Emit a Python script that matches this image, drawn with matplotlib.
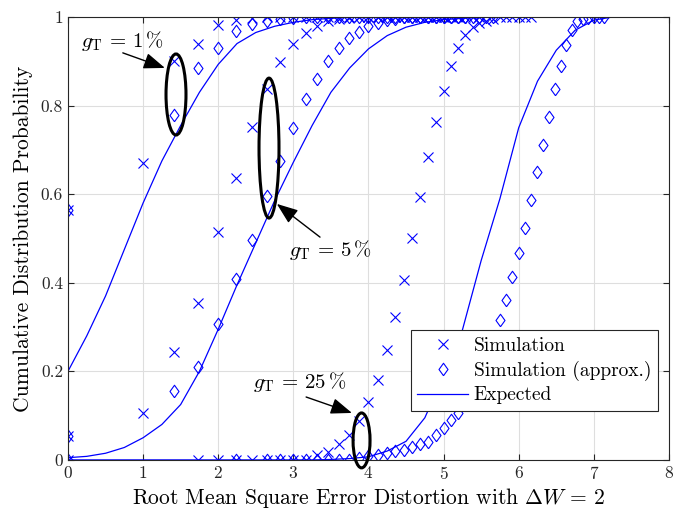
import matplotlib
matplotlib.use("Agg")
import matplotlib.pyplot as plt
import numpy as np
from matplotlib.patches import Ellipse
from matplotlib.lines import Line2D

plt.rcParams["font.family"] = "serif"
plt.rcParams["font.serif"] = ["cmr10"]
plt.rcParams["mathtext.fontset"] = "cm"
plt.rcParams["axes.unicode_minus"] = False
plt.rcParams["axes.formatter.use_mathtext"] = True

# squared distortion n -> RMSE = sqrt(n)
n_sim_1 = list(range(0, 26))
sim_1 = [0.565, 0.67, 0.90, 0.94, 0.983, 0.993, 0.997, 0.999] + [1.0] * 18
n_apx_1 = [0] + list(range(2, 29))
apx_1 = [0.565, 0.778, 0.885, 0.93, 0.968, 0.984, 0.99, 0.995, 0.998] + [1.0] * 19

n_sim_5 = list(range(0, 31))
sim_5 = [0.055, 0.106, 0.244, 0.354, 0.515, 0.636, 0.752, 0.837, 0.898, 0.94,
         0.964, 0.98, 0.99, 0.995, 0.998] + [1.0] * 16
n_apx_5 = [0] + list(range(2, 33))
apx_5 = [0.055, 0.156, 0.21, 0.307, 0.408, 0.497, 0.596, 0.675, 0.75, 0.815,
         0.86, 0.90, 0.93, 0.952, 0.967, 0.98, 0.986, 0.993, 0.996] + [1.0] * 13

n_sim_25 = [0] + list(range(3, 39))
sim_25 = [0.0] * 9 + [0.012, 0.018, 0.035, 0.056, 0.088, 0.13, 0.18, 0.248, 0.322,
                      0.406, 0.50, 0.594, 0.684, 0.763, 0.833, 0.889, 0.93, 0.96,
                      0.977, 0.986, 0.992, 0.996] + [1.0] * 6
n_apx_25 = [0, 5] + list(range(7, 52))
apx_25 = [0.0] * 10 + [0.005, 0.008, 0.011, 0.015, 0.02, 0.023, 0.03, 0.035, 0.04,
                       0.056, 0.072, 0.09, 0.106, 0.125, 0.15, 0.18, 0.22, 0.265,
                       0.316, 0.362, 0.414, 0.467, 0.523, 0.587, 0.65, 0.71, 0.774,
                       0.837, 0.89, 0.937, 0.97, 0.99, 0.995, 0.998, 1.0, 1.0, 1.0]

# expected curves, read at steps of 0.25
x_exp = [i * 0.25 for i in range(30)]
exp_1 = [0.2, 0.28, 0.37, 0.475, 0.58, 0.675, 0.755, 0.83, 0.893, 0.94, 0.965,
         0.979, 0.988, 0.994, 0.997, 0.999] + [1.0] * 14
exp_5 = [0.005, 0.008, 0.015, 0.028, 0.05, 0.08, 0.125, 0.2, 0.295, 0.395, 0.49,
         0.585, 0.672, 0.755, 0.83, 0.885, 0.928, 0.958, 0.977, 0.988, 0.994,
         0.997, 0.999] + [1.0] * 7
exp_25 = [0.0] * 14 + [0.001, 0.003, 0.007, 0.02, 0.042, 0.095, 0.19, 0.293, 0.45,
                       0.59, 0.75, 0.855, 0.925, 0.97, 0.993, 1.0]

blue = (0, 0, 1)
diamond = [(0, -1), (0.72, 0), (0, 1), (-0.72, 0), (0, -1)]

fig = plt.figure(figsize=(6.73, 5.15), dpi=100)
ax = fig.add_axes([0.101, 0.107, 0.893, 0.86])

for n, v in [(n_sim_1, sim_1), (n_sim_5, sim_5), (n_sim_25, sim_25)]:
    ax.plot(np.sqrt(n), v, ls="none", marker="x", ms=7.5, mew=0.8, color=blue)
for n, v in [(n_apx_1, apx_1), (n_apx_5, apx_5), (n_apx_25, apx_25)]:
    ax.plot(np.sqrt(n), v, ls="none", marker=diamond, ms=9, mew=0.8,
            mfc="none", color=blue)
for v in [exp_1, exp_5, exp_25]:
    ax.plot(x_exp, v, color=blue, lw=0.9)

ax.set_xlim(0, 8)
ax.set_ylim(0, 1)
ax.set_xticks(range(9))
ax.set_yticks([0, 0.2, 0.4, 0.6, 0.8, 1])
ax.set_yticklabels(["0", "0.2", "0.4", "0.6", "0.8", "1"])
ax.grid(True, color="#dedede", lw=0.8)
ax.set_axisbelow(True)
ax.tick_params(direction="in", top=True, right=True, labelsize=12.5,
               colors="#262626", length=4)
for s in ax.spines.values():
    s.set_color("#262626")
    s.set_linewidth(0.8)

ax.set_xlabel(r"Root Mean Square Error Distortion with $\Delta W\,=\,2$",
              fontsize=15.5, labelpad=3)
ax.set_ylabel("Cumulative Distribution Probability", fontsize=15.5, labelpad=6)

# ellipses around the marked points
for cx, cy, w, h in [(1.438, 0.825, 0.266, 0.183),
                     (2.676, 0.704, 0.266, 0.316),
                     (3.908, 0.044, 0.226, 0.124)]:
    ax.add_patch(Ellipse((cx, cy), w, h, fill=False, ec="k", lw=2.2,
                         clip_on=False, zorder=5))

arrow = dict(arrowstyle="-|>,head_length=1.0,head_width=0.38", color="k", lw=1,
             mutation_scale=13, shrinkA=0, shrinkB=0)
ax.annotate("", xy=(1.29, 0.885), xytext=(0.73, 0.919), arrowprops=arrow)
ax.annotate("", xy=(2.78, 0.578), xytext=(3.355, 0.503), arrowprops=arrow)
ax.annotate("", xy=(3.78, 0.106), xytext=(3.17, 0.142), arrowprops=arrow)
lbl = dict(fontsize=15, ha="center", va="center")
ax.text(0.732, 0.946, r"$g_\mathrm{T}\,=\,1\,\%$", **lbl)
ax.text(3.49, 0.474, r"$g_\mathrm{T}\,=\,5\,\%$", **lbl)
ax.text(3.09, 0.176, r"$g_\mathrm{T}\,=\,25\,\%$", **lbl)

handles = [Line2D([], [], ls="none", marker="x", ms=7.5, mew=0.8, color=blue),
           Line2D([], [], ls="none", marker=diamond, ms=9, mew=0.8, mfc="none", color=blue),
           Line2D([], [], color=blue, lw=0.9)]
leg = ax.legend(handles, ["Simulation", "Simulation (approx.)", "Expected"],
                loc="lower right", bbox_to_anchor=(0.982, 0.11), borderaxespad=0,
                fontsize=14, fancybox=False, framealpha=1, edgecolor="#262626",
                handlelength=2.6, handletextpad=0.3, borderpad=0.35, labelspacing=0.3)
leg.get_frame().set_linewidth(0.8)
leg.set_zorder(6)

fig.savefig("out.png", dpi=100)
